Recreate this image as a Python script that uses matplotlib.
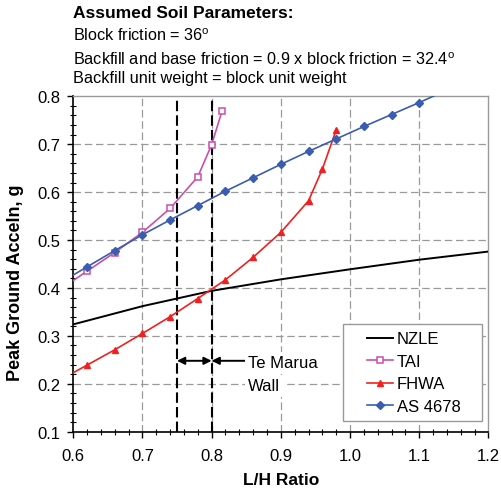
import matplotlib
matplotlib.use('Agg')
import matplotlib.pyplot as plt
from matplotlib.patches import Rectangle
from matplotlib.ticker import MultipleLocator, FormatStrFormatter

plt.rcParams['font.family'] = ['Liberation Sans', 'DejaVu Sans']
plt.rcParams['mathtext.fontset'] = 'custom'
plt.rcParams['mathtext.rm'] = 'Liberation Sans'

# L/H ratio vs peak ground acceleration for each design method
nzle_x = [0.6, 0.65, 0.7, 0.75, 0.8, 0.85, 0.9, 1.0, 1.1, 1.2]
nzle_y = [0.324, 0.343, 0.362, 0.378, 0.394, 0.406, 0.418, 0.439, 0.459, 0.476]

tai_x = [0.58, 0.62, 0.66, 0.70, 0.74, 0.78, 0.80, 0.815]
tai_y = [0.396, 0.435, 0.474, 0.516, 0.566, 0.632, 0.699, 0.769]

fhwa_x = [0.58, 0.62, 0.66, 0.70, 0.74, 0.78, 0.82, 0.86, 0.90, 0.94, 0.96, 0.98]
fhwa_y = [0.207, 0.239, 0.271, 0.305, 0.340, 0.378, 0.417, 0.464, 0.516, 0.582, 0.648, 0.730]

as_x = [0.58, 0.62, 0.66, 0.70, 0.74, 0.78, 0.82, 0.86, 0.90, 0.94, 0.98, 1.02, 1.06, 1.10, 1.14]
as_y = [0.410, 0.444, 0.478, 0.511, 0.542, 0.572, 0.602, 0.630, 0.658, 0.685, 0.711, 0.737, 0.762, 0.787, 0.813]

wall_lo, wall_hi = 0.75, 0.80
arrow_y = 0.248

fig = plt.figure(figsize=(5.01, 4.89), dpi=100)
ax = fig.add_axes([0.1461, 0.1151, 0.8289, 0.6859])

grid_kw = dict(color='#9a9a9a', lw=0.9, ls=(0, (6, 3)), zorder=0)
for gx in [0.7, 0.8, 0.9, 1.0, 1.1]:
    ax.axvline(gx, **grid_kw)
for gy in [0.2, 0.3, 0.4, 0.5, 0.6, 0.7]:
    ax.axhline(gy, **grid_kw)

ax.plot(nzle_x, nzle_y, color='black', lw=1.4, label='NZLE', zorder=3)
ax.plot(tai_x, tai_y, color='#c94fae', lw=1.2, marker='s', ms=4.2,
        mfc='white', mec='#c94fae', mew=1.1, label='TAI', zorder=3)
ax.plot(fhwa_x, fhwa_y, color='#f02020', lw=1.2, marker='^', ms=5,
        label='FHWA', zorder=3)
ax.plot(as_x, as_y, color='#3a5db0', lw=1.2, marker='D', ms=3.8,
        label='AS 4678', zorder=3)

# Te Marua wall range
for wx in [wall_lo, wall_hi]:
    ax.axvline(wx, color='black', lw=1.5, ls=(0, (5, 2)), zorder=2)

ax.annotate('', xy=(wall_lo, arrow_y), xytext=(wall_hi, arrow_y),
            arrowprops=dict(arrowstyle='<|-|>', color='black', lw=1.4,
                            mutation_scale=11, shrinkA=0, shrinkB=0), zorder=4)
ax.annotate('', xy=(wall_hi, arrow_y), xytext=(0.849, arrow_y),
            arrowprops=dict(arrowstyle='-|>', color='black', lw=1.4,
                            mutation_scale=11, shrinkA=0, shrinkB=0), zorder=4)
note_box = dict(facecolor='white', edgecolor='none', pad=2.5)
ax.text(0.853, 0.244, 'Te Marua', fontsize=12, ha='left', va='center',
        zorder=4, bbox=note_box)
ax.text(0.853, 0.196, 'Wall', fontsize=12, ha='left', va='center',
        zorder=4, bbox=note_box)

ax.set_xlim(0.6, 1.2)
ax.set_ylim(0.1, 0.8)
ax.xaxis.set_major_locator(MultipleLocator(0.1))
ax.xaxis.set_minor_locator(MultipleLocator(0.02))
ax.yaxis.set_major_locator(MultipleLocator(0.1))
ax.yaxis.set_minor_locator(MultipleLocator(0.02))
ax.xaxis.set_major_formatter(FormatStrFormatter('%.1f'))
ax.yaxis.set_major_formatter(FormatStrFormatter('%.1f'))
ax.tick_params(which='major', direction='out', length=4, width=1, labelsize=12)
ax.tick_params(axis='x', which='major', pad=8)
ax.tick_params(axis='y', which='major', pad=5)
ax.tick_params(which='minor', direction='inout', length=5, width=0.8)

for side in ['left', 'bottom']:
    ax.spines[side].set_color('black')
    ax.spines[side].set_linewidth(1.2)
for side in ['top', 'right']:
    ax.spines[side].set_color('#9a9a9a')
    ax.spines[side].set_linewidth(1.0)

ax.set_xlabel('L/H Ratio', fontsize=12.5, fontweight='bold', va='center')
ax.set_ylabel('Peak Ground Acceln, g', fontsize=13, fontweight='bold', va='center')
ax.xaxis.set_label_coords(0.5, -0.141)
ax.yaxis.set_label_coords(-0.14, 0.446)

# legend frame drawn separately so the entries sit inset from its left edge
ax.add_patch(Rectangle((0.649, 0.033), 0.336, 0.288, transform=ax.transAxes,
                       facecolor='white', edgecolor='#9a9a9a', lw=1.0, zorder=5))
leg = ax.legend(loc='center left', bbox_to_anchor=(0.7067, 0.176), fontsize=12,
                frameon=False, handlelength=1.6, handletextpad=0.2,
                labelspacing=0.45, borderpad=0, borderaxespad=0)
leg.set_zorder(6)

# header notes above the plot
fig.text(73 / 501, 1 - 13.5 / 489, 'Assumed Soil Parameters:', fontsize=12.5,
         fontweight='bold', ha='left', va='center')
fig.text(73 / 501, 1 - 36 / 489, r'Block friction = 36$^{\mathrm{o}}$', fontsize=11.7,
         ha='left', va='center')
fig.text(73 / 501, 1 - 60 / 489,
         r'Backfill and base friction = 0.9 x block friction = 32.4$^{\mathrm{o}}$',
         fontsize=11.7, ha='left', va='center')
fig.text(73 / 501, 1 - 79 / 489, 'Backfill unit weight = block unit weight',
         fontsize=11.7, ha='left', va='center')

fig.savefig('out.png', dpi=100)
